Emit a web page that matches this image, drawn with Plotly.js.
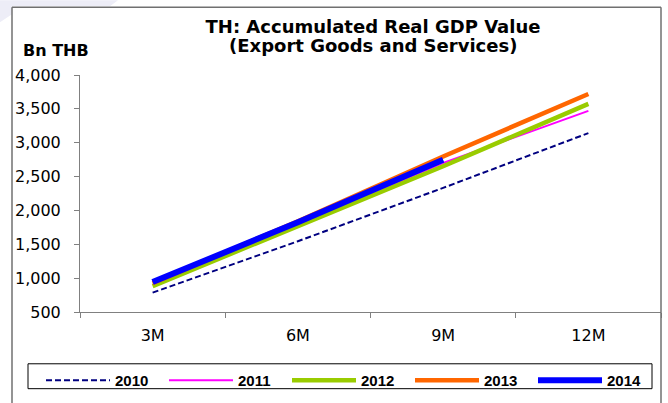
<!DOCTYPE html>
<html>
<head>
<meta charset="utf-8">
<script src="https://cdn.plot.ly/plotly-3.0.1.min.js"></script>
<style>
html,body{margin:0;padding:0;background:#fff;}
#chart{width:668px;height:403px;}
</style>
</head>
<body>
<div id="chart"></div>
<script>
const periods = ["3M", "6M", "9M", "12M"];
const years = ["2010", "2011", "2012", "2013", "2014"];
const v2010 = [786, 1545, 2333, 3142];
const v2011 = [900, 1795, 2700, 3470];
const v2012 = [883, 1770, 2653, 3573];
const v2013 = [925, 1840, 2797, 3720];
const v2014 = [942, 1825, 2749];
const yTicks = [500, 1000, 1500, 2000, 2500, 3000, 3500, 4000];
const titleLine1 = "TH: Accumulated Real GDP Value";
const titleLine2 = "(Export Goods and Services)";
const unitLabel = "Bn THB";

const series = [v2010, v2011, v2012, v2013, v2014];
const styles = [
  {color: "#000080", width: 2, dash: "6px,3px"},
  {color: "#FF00FF", width: 2, dash: "solid"},
  {color: "#99CC00", width: 4.5, dash: "solid"},
  {color: "#FF6600", width: 4.5, dash: "solid"},
  {color: "#0000FF", width: 6, dash: "solid"}
];

const traces = series.map((vals, i) => ({
  type: "scatter",
  mode: "lines",
  name: years[i],
  x: periods.slice(0, vals.length),
  y: vals,
  line: Object.assign({shape: "linear"}, styles[i]),
  hoverinfo: "x+y+name"
}));

const plotW = 581, plotH = 238;
const px = v => (v - 80) / plotW;
const py = v => (313 - v) / plotH;
const pathPaper = pts => pts.map((p, i) => (i ? "L" : "M") + px(p[0]).toFixed(4) + "," + py(p[1]).toFixed(4)).join(" ") + " Z";

const dv = "DejaVu Sans, Verdana, sans-serif";
const ar = "Liberation Sans, Arial, sans-serif";

const layout = {
  width: 668,
  height: 403,
  margin: {l: 80, r: 7, t: 75, b: 90},
  paper_bgcolor: "#ffffff",
  plot_bgcolor: "#ffffff",
  font: {family: dv, size: 16, color: "#000"},
  title: {
    text: "<b>" + titleLine1 + "</b>",
    font: {family: dv, size: 18, color: "#000"},
    xref: "paper", x: px(373), xanchor: "center",
    yref: "container", y: 1 - 26.5 / 403, yanchor: "middle"
  },
  showlegend: true,
  legend: {
    orientation: "h",
    x: px(41), xanchor: "left",
    y: py(364), yanchor: "top",
    borderwidth: 0,
    bgcolor: "rgba(0,0,0,0)",
    font: {family: ar, size: 15, color: "#000", weight: "bold"},
    itemwidth: 64,
    entrywidth: 44,
    entrywidthmode: "pixels",
    traceorder: "normal"
  },
  xaxis: {
    type: "category",
    categoryorder: "array",
    categoryarray: periods,
    range: [-0.5, 3.5],
    tickson: "boundaries",
    ticks: "outside",
    ticklen: 5,
    tickcolor: "#808080",
    showline: true,
    linecolor: "#808080",
    linewidth: 1,
    showgrid: false,
    zeroline: false,
    tickfont: {family: dv, size: 16, color: "#000"},
    ticklabelstandoff: 9,
    fixedrange: true
  },
  yaxis: {
    range: [500, 4000],
    tickvals: yTicks,
    tickformat: ",",
    ticks: "outside",
    ticklen: 5,
    tickcolor: "#808080",
    showline: true,
    linecolor: "#808080",
    linewidth: 1,
    showgrid: false,
    zeroline: false,
    tickfont: {family: dv, size: 16, color: "#000"},
    ticklabelstandoff: 10,
    fixedrange: true
  },
  annotations: [
    {
      text: "<b>" + titleLine2 + "</b>",
      xref: "paper", yref: "paper",
      x: px(373), xanchor: "center",
      y: py(45), yanchor: "middle",
      showarrow: false,
      font: {family: dv, size: 18, color: "#000"}
    },
    {
      text: "<b>" + unitLabel + "</b>",
      xref: "paper", yref: "paper",
      x: px(21), xanchor: "left",
      y: py(50), yanchor: "middle",
      showarrow: false,
      font: {family: dv, size: 16, color: "#000"}
    }
  ],
  shapes: [
    {type: "path", xref: "paper", yref: "paper", layer: "below",
     path: pathPaper([[0, 0], [118, 0], [110, 6], [12, 6], [12, 14], [0, 22]]),
     fillcolor: "#EDEDF7", line: {width: 0}},
    {type: "line", xref: "paper", yref: "paper", x0: px(12), x1: px(12), y0: py(7), y1: py(420), line: {color: "#707070", width: 1.5}},
    {type: "line", xref: "paper", yref: "paper", x0: px(12), x1: px(661), y0: py(7), y1: py(7), line: {color: "#707070", width: 1.5}},
    {type: "line", xref: "paper", yref: "paper", x0: px(661), x1: px(661), y0: py(7), y1: py(420), line: {color: "#707070", width: 1.5}},
    {type: "rect", xref: "paper", yref: "paper", x0: px(28), x1: px(652), y0: py(365), y1: py(390), line: {color: "#000", width: 1}, fillcolor: "rgba(0,0,0,0)"}
  ]
};

Plotly.newPlot("chart", traces, layout, {displayModeBar: false, staticPlot: true});
</script>
</body>
</html>
